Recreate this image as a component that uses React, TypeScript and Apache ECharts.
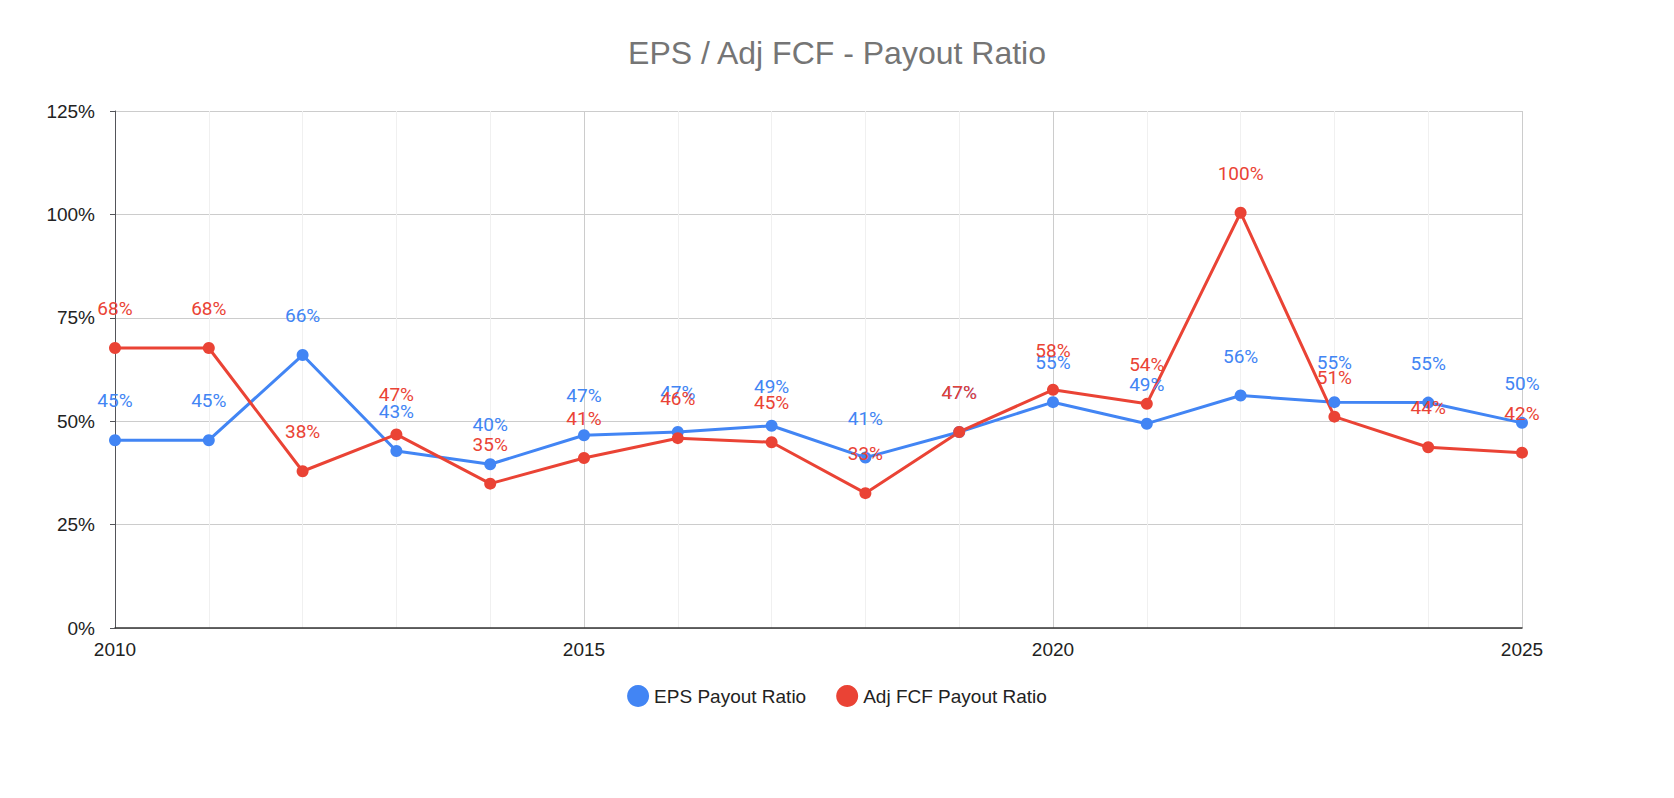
import React, { useEffect, useRef } from "react";
import * as echarts from "echarts";

const years = [2010, 2011, 2012, 2013, 2014, 2015, 2016, 2017, 2018, 2019, 2020, 2021, 2022, 2023, 2024, 2025];
const epsPayout = [45.4, 45.4, 66, 42.8, 39.6, 46.6, 47.4, 48.9, 41.2, 47.4, 54.6, 49.4, 56.2, 54.6, 54.5, 49.6];
const fcfPayout = [67.7, 67.7, 37.9, 46.8, 34.9, 41.1, 45.9, 44.9, 32.6, 47.4, 57.6, 54.2, 100.4, 51.1, 43.7, 42.4];

export default function App() {
  const ref = useRef<HTMLDivElement>(null);
  useEffect(() => {
    const chart = echarts.init(ref.current!, null, { renderer: "svg" });
    const mk = (name: string, vals: number[], color: string) => ({
      name,
      type: "line",
      data: years.map((y, i) => [y, vals[i]]),
      symbol: "circle",
      symbolSize: 12,
      lineStyle: { width: 3, color },
      itemStyle: { color },
      label: {
        show: true,
        position: "top",
        distance: 24,
        color,
        fontSize: 19,
        fontFamily: "Roboto",
        formatter: (p: any) => Math.round(p.value[1]) + "%",
      },
    });
    chart.setOption({
      animation: false,
      title: {
        text: "EPS / Adj FCF - Payout Ratio",
        left: "center",
        top: 32,
        textStyle: { color: "#757575", fontSize: 32, fontWeight: "normal", fontFamily: "Arial" },
      },
      legend: {
        bottom: 86,
        left: "center",
        icon: "circle",
        itemWidth: 22,
        itemHeight: 22,
        itemGap: 30,
        textStyle: { fontSize: 19, color: "#222", fontFamily: "Arial" },
      },
      grid: { left: 115, right: 152, top: 111, bottom: 170 },
      xAxis: {
        type: "value",
        min: 2010,
        max: 2025,
        interval: 5,
        axisLine: { show: true, lineStyle: { color: "#333", width: 1.5 } },
        axisTick: { show: false },
        axisLabel: { fontSize: 19, color: "#222", fontFamily: "Arial", margin: 12, formatter: (v: number) => String(v) },
        splitLine: { show: true, lineStyle: { color: "#ccc" } },
        minorTick: { show: false, splitNumber: 5 },
        minorSplitLine: { show: true, lineStyle: { color: "#f0f0f0" } },
      },
      yAxis: {
        type: "value",
        min: 0,
        max: 125,
        interval: 25,
        axisLabel: { fontSize: 19, color: "#222", fontFamily: "Arial", formatter: "{value}%", margin: 20 },
        splitLine: { lineStyle: { color: "#ccc" } },
      },
      series: [mk("EPS Payout Ratio", epsPayout, "#4285f4"), mk("Adj FCF Payout Ratio", fcfPayout, "#ea4335")],
    });
    return () => chart.dispose();
  }, []);
  return <div ref={ref} style={{ position: "absolute", left: 0, top: 0, width: 1674, height: 798, background: "#fff" }} />;
}
